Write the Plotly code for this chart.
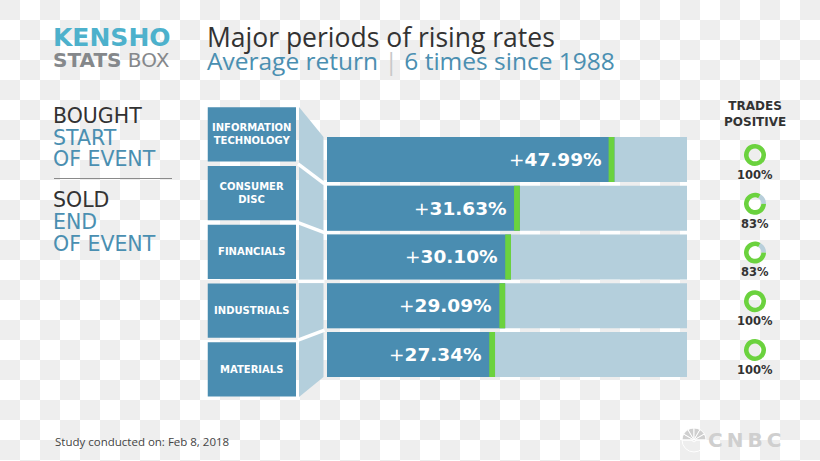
import plotly.graph_objects as go

# ---------------- data ----------------
sectors = ["Information Technology", "Consumer Disc", "Financials", "Industrials", "Materials"]
box_labels = ["INFORMATION<br>TECHNOLOGY", "CONSUMER<br>DISC", "FINANCIALS", "INDUSTRIALS", "MATERIALS"]
avg_return = [47.99, 31.63, 30.10, 29.09, 27.34]
trades_positive = [100, 83, 83, 100, 100]

# ---------------- layout helpers ----------------
W, H = 820, 461
def px(x):
    return x / W
def py(y):
    return 1 - y / H

DARK = "#4a8db1"
LIGHT = "#b4cfdc"
GREEN = "#6bd23e"
BLUE_TXT = "#4a8fb1"
TXT = "#333333"

X0, X1 = -1.73, 60.55      # value axis range
GW = 1.0                    # green end marker width (axis units)

# bar geometry (pixels)
BAR_L, BAR_R = 327, 687
BAR_T, PITCH = 135.1, 48.75
BOX_L, BOX_R = 207.5, 296
BOX_T, BPITCH = 105.1, 58.75
n = len(sectors)

fig = go.Figure()

# checkerboard background
rows, cols = 24, 41
z = [[(r + c) % 2 for c in range(cols)] for r in range(rows)]
fig.add_trace(go.Heatmap(z=z, x0=10, dx=20, y0=10, dy=20, colorscale=[[0, "#eeeeee"], [1, "#ffffff"]],
                         showscale=False, hoverinfo="skip", xaxis="x", yaxis="y"))

# track
fig.add_trace(go.Bar(y=sectors, x=[X1 - X0] * n, base=X0, orientation="h", marker=dict(color=LIGHT, line_width=0),
                     xaxis="x2", yaxis="y2", hoverinfo="skip"))
# value bars
fig.add_trace(go.Bar(y=sectors, x=[v - X0 for v in avg_return], base=X0, orientation="h",
                     marker=dict(color=DARK, line_width=0), xaxis="x2", yaxis="y2"))
# green end markers
fig.add_trace(go.Bar(y=sectors, x=[GW] * n, base=[v - GW for v in avg_return], orientation="h",
                     marker=dict(color=GREEN, line_width=0), xaxis="x2", yaxis="y2", hoverinfo="skip"))

# category boxes
fig.add_trace(go.Bar(y=sectors, x=[1] * n, orientation="h", marker=dict(color=DARK, line_width=0),
                     text=["<b>%s</b>" % t for t in box_labels], textposition="inside",
                     insidetextanchor="middle", textangle=0,
                     textfont=dict(family="DejaVu Sans", size=10, color="white"),
                     xaxis="x3", yaxis="y3", hoverinfo="skip"))

# donuts
for k, p in enumerate(trades_positive):
    cy = BAR_T + PITCH * (k + 0.5) - 4.5
    cx = 755
    r = 11
    fig.add_trace(go.Pie(values=[100 - p, p], marker=dict(colors=["#b8cfdb", GREEN], line_width=0),
                         hole=0.58, sort=False, direction="clockwise", rotation=30,
                         textinfo="none", hoverinfo="skip", showlegend=False,
                         domain=dict(x=[px(cx - r), px(cx + r)], y=[py(cy + r), py(cy - r)])))

# CNBC peacock (half pie)
fig.add_trace(go.Pie(values=[1] * 6 + [6], marker=dict(colors=["#cfcfcf"] * 6 + ["rgba(0,0,0,0)"],
                     line=dict(color="white", width=1)), sort=False, direction="clockwise", rotation=-90,
                     textinfo="none", hoverinfo="skip", showlegend=False, hole=0.15,
                     domain=dict(x=[px(682), px(706)], y=[py(452), py(428)])))

fig.update_layout(
    width=W, height=H, margin=dict(l=0, r=0, t=0, b=0), autosize=False,
    paper_bgcolor="white", plot_bgcolor="rgba(0,0,0,0)", showlegend=False,
    barmode="overlay",
    xaxis=dict(domain=[0, 1], range=[0, W], visible=False, fixedrange=True),
    yaxis=dict(domain=[0, 1], range=[H, 0], visible=False, fixedrange=True),
    xaxis2=dict(domain=[px(BAR_L), px(BAR_R)], range=[X0, X1], visible=False, anchor="y2"),
    yaxis2=dict(domain=[py(BAR_T + PITCH * n), py(BAR_T)], autorange="reversed", visible=False,
                anchor="x2"),
    xaxis3=dict(domain=[px(BOX_L), px(BOX_R)], range=[0, 1], visible=False, anchor="y3"),
    yaxis3=dict(domain=[py(BOX_T + BPITCH * n), py(BOX_T)], autorange="reversed", visible=False,
                anchor="x3"),
    bargap=3.75 / 48.75,
)

# value labels
for s, v in zip(sectors, avg_return):
    fig.add_annotation(x=v - GW, y=s, xref="x2", yref="y2", xanchor="right", yanchor="middle", xshift=-5,
                       text="+<b>%.2f%%</b>" % v, showarrow=False,
                       font=dict(family="DejaVu Sans", size=18.5, color="white"))

# connector shapes
shapes = []
shapes.append(dict(type="path", xref="paper", yref="paper", layer="above",
                   path="M %f,%f L %f,%f L %f,%f L %f,%f Z" % (
                       px(299), py(BOX_T + 1.9), px(323.5), py(BAR_T + 1.9),
                       px(323.5), py(BAR_T + PITCH * n - 1.9), px(299), py(BOX_T + BPITCH * n - 1.9)),
                   fillcolor=LIGHT, line=dict(width=0)))
for k in range(1, n):
    shapes.append(dict(type="line", xref="paper", yref="paper", layer="above",
                       x0=px(298), y0=py(BOX_T + BPITCH * k), x1=px(324.5), y1=py(BAR_T + PITCH * k),
                       line=dict(color="white", width=3.5)))
shapes.append(dict(type="line", xref="paper", yref="paper", x0=px(54), x1=px(172), y0=py(178.5), y1=py(178.5),
                   line=dict(color="#8a8a8a", width=1), layer="above"))
fig.update_layout(shapes=shapes)

def ann(x, y, text, size, color, family="DejaVu Sans", xanchor="left"):
    fig.add_annotation(x=px(x), y=py(y), xref="paper", yref="paper", xanchor=xanchor, yanchor="middle",
                       text=text, showarrow=False, font=dict(family=family, size=size, color=color))

# header
ann(51, 37, "<b>KENSHO</b>", 25, "#4db1cc")
ann(51, 60, "<b>STATS</b> BOX", 20, "#85888b")
ann(205, 37, "Major periods of rising rates", 26.5, TXT, family="Open Sans")
ann(205, 61, "Average return <span style='color:#c8c8c8'>|</span> 6 times since 1988", 24.5, BLUE_TXT,
    family="Open Sans")

# left legend
ann(51, 116, "BOUGHT", 20.5, TXT)
ann(51, 137.5, "START", 20.5, BLUE_TXT)
ann(51, 159, "OF EVENT", 20.5, BLUE_TXT)
ann(51, 200, "SOLD", 20.5, TXT)
ann(51, 221.5, "END", 20.5, BLUE_TXT)
ann(51, 243.5, "OF EVENT", 20.5, BLUE_TXT)

# trades positive
ann(755, 113.5, "<b>TRADES<br>POSITIVE</b>", 12, TXT, xanchor="center")
for k, p in enumerate(trades_positive):
    ann(755, BAR_T + PITCH * (k + 0.5) + 15.5, "<b>%d%%</b>" % p, 11.5, TXT, xanchor="center")

# footer
ann(53, 441, "Study conducted on: Feb 8, 2018", 11.5, "#444444", family="Open Sans")
ann(706, 440, "<b>C\u2009N\u2009B\u2009C</b>", 20, "#cfcfcf")

fig.write_html("out.html", config={"displayModeBar": False},
               post_script="document.body.style.margin='0';document.body.style.overflow='hidden';")
